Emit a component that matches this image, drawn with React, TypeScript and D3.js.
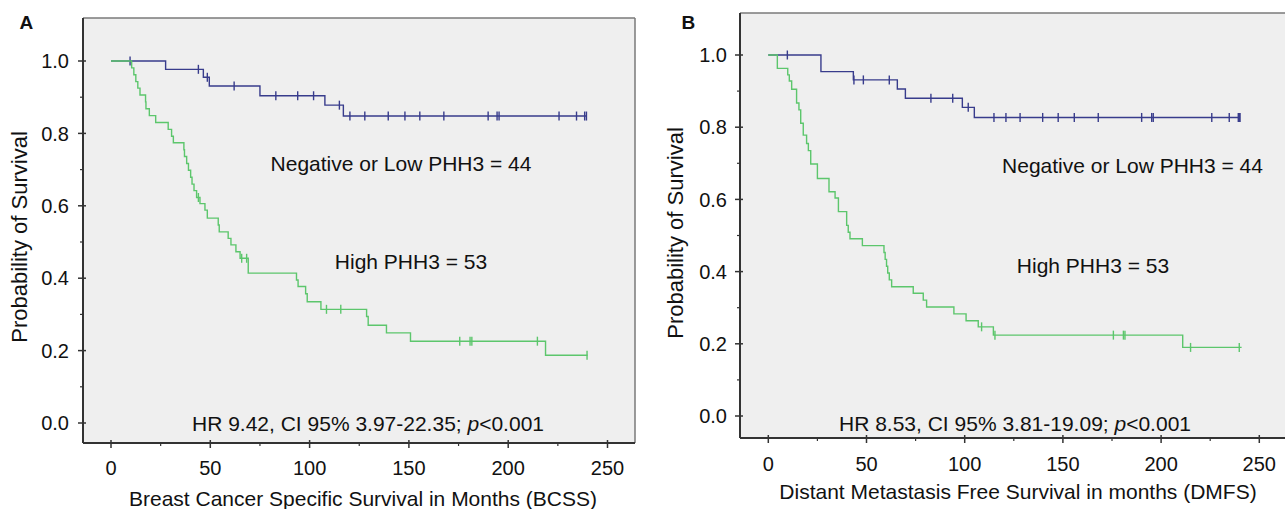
import React from "react";
import * as d3 from "d3";

// ---------- data ----------
const timeTicks = [0, 50, 100, 150, 200, 250];
const timeMinorTicks = [25, 75, 125, 175, 225];
const probTicks = [0, 0.2, 0.4, 0.6, 0.8, 1.0];
const probMinorTicks = [0.1, 0.3, 0.5, 0.7, 0.9];

// Panel A – BCSS
const bcssLowTimes = [0, 27.5, 46.5, 49.5, 75, 107.7, 117];
const bcssLowSurv = [1.0, 0.977, 0.955, 0.931, 0.904, 0.878, 0.848];
const bcssLowCensor = [9.6, 44, 48.5, 62, 83, 94, 102, 115, 120.3, 127.8, 139.6, 148, 155.5, 167.6, 189.9, 194.4, 195.4, 225.6, 234.4, 238.5, 239.4];
const bcssLowEnd = 239.5;

const bcssHighTimes = [0, 10.4, 11.5, 12.5, 13.5, 14.6, 17.4, 17.6, 19.3, 22.5, 28.8, 30.5, 31.4, 36.7, 37.0, 38.1, 39.0, 40.1, 40.8, 41.8, 43.1, 44.8, 47.3, 48.5, 54.0, 54.5, 59.0, 60.4, 62.9, 65.0, 69.1, 93.4, 94.2, 98.0, 98.8, 105.7, 128.7, 129.5, 138.7, 150.8, 218.8];
const bcssHighSurv = [1.0, 0.981, 0.962, 0.943, 0.925, 0.906, 0.887, 0.868, 0.849, 0.83, 0.811, 0.792, 0.774, 0.755, 0.736, 0.717, 0.698, 0.679, 0.66, 0.642, 0.623, 0.606, 0.588, 0.566, 0.547, 0.528, 0.51, 0.492, 0.473, 0.455, 0.414, 0.395, 0.377, 0.357, 0.335, 0.314, 0.294, 0.27, 0.249, 0.226, 0.187];
const bcssHighCensor = [44.0, 65.8, 68.3, 108.5, 115.7, 175.6, 180.8, 181.7, 214.7, 239.7];
const bcssHighEnd = 240;

// Panel B – DMFS
const dmfsLowTimes = [0, 26.8, 43.3, 65.7, 69.8, 98.8, 104.9];
const dmfsLowSurv = [1.0, 0.954, 0.931, 0.906, 0.88, 0.855, 0.827];
const dmfsLowCensor = [9.7, 43.6, 48.4, 61.6, 82.8, 93.9, 101.8, 114.9, 121.0, 128.2, 139.7, 147.6, 155.8, 168.0, 190.1, 195.2, 196.0, 225.8, 234.7, 239.3, 239.8, 240.2];
const dmfsLowEnd = 240.2;

const dmfsHighTimes = [0, 4.6, 9.9, 10.7, 11.9, 14.4, 15.6, 16.5, 17.8, 19.5, 20.4, 21.6, 25.0, 30.9, 34.0, 35.7, 39.9, 40.7, 41.6, 47.9, 58.9, 59.5, 60.2, 60.8, 61.6, 62.8, 73.8, 78.9, 80.6, 94.5, 100.7, 106.9, 114.6, 211];
const dmfsHighSurv = [1.0, 0.963, 0.945, 0.928, 0.905, 0.867, 0.848, 0.811, 0.778, 0.755, 0.735, 0.698, 0.658, 0.621, 0.604, 0.566, 0.528, 0.509, 0.491, 0.472, 0.453, 0.434, 0.415, 0.396, 0.377, 0.358, 0.34, 0.321, 0.302, 0.283, 0.264, 0.247, 0.224, 0.19];
const dmfsHighCensor = [108.6, 115.4, 175.7, 180.8, 181.6, 215, 239.8];
const dmfsHighEnd = 241;

// ---------- styling ----------
const NAVY = "#383c8c";
const GREEN = "#5cc66c";
const FONT = "'Liberation Sans', Arial, Helvetica, sans-serif";
const TICK_FS = 20;
const LABEL_FS = 21;
const YTITLE_FS = 22;

type Series = { times: number[]; surv: number[]; censor: number[]; end: number; color: string };

function survAt(s: Series, t: number) {
  let v = s.surv[0];
  for (let i = 0; i < s.times.length; i++) if (s.times[i] <= t) v = s.surv[i];
  return v;
}

type PanelProps = {
  letter: string;
  letterX: number;
  frame: { l: number; r: number; t: number; b: number };
  xRange: [number, number];
  yRange: [number, number];
  series: Series[];
  xTitle: string;
  xTitleX: number;
  xTitleY: number;
  xTickY: number;
  yTitleX: number;
  yTitleY: number;
  yTickX: number;
  labelLow: [number, number];
  labelHigh: [number, number];
  hr: string;
  ci: string;
  hrPos: [number, number];
  clipId: string;
};

function Panel(p: PanelProps) {
  const x = d3.scaleLinear().domain([0, 250]).range(p.xRange);
  const y = d3.scaleLinear().domain([0, 1]).range(p.yRange);
  const line = d3
    .line<[number, number]>()
    .x((d) => x(d[0]))
    .y((d) => y(d[1]))
    .curve(d3.curveStepAfter);
  const f = p.frame;
  return (
    <g fontFamily={FONT}>
      <defs>
        <clipPath id={p.clipId}>
          <rect x={f.l} y={f.t} width={f.r - f.l} height={f.b - f.t} />
        </clipPath>
      </defs>
      <rect x={f.l} y={f.t} width={f.r - f.l} height={f.b - f.t} fill="#efefef" />
      <line x1={f.l} x2={f.r} y1={f.t} y2={f.t} stroke="#7a7a7a" strokeWidth={1.5} />
      <line x1={f.r} x2={f.r} y1={f.t} y2={f.b} stroke="#7a7a7a" strokeWidth={1.5} />
      <g clipPath={`url(#${p.clipId})`}>
        {p.series.map((s, i) => {
          const pts: [number, number][] = s.times.map((t, j) => [t, s.surv[j]]);
          pts.push([s.end, s.surv[s.surv.length - 1]]);
          return (
            <g key={i}>
              <path d={line(pts) || ""} fill="none" stroke={s.color} strokeWidth={1.4} />
              {s.censor.map((c, k) => (
                <line
                  key={k}
                  x1={x(c)}
                  x2={x(c)}
                  y1={y(survAt(s, c)) - 4.5}
                  y2={y(survAt(s, c)) + 4.5}
                  stroke={s.color}
                  strokeWidth={1.4}
                />
              ))}
            </g>
          );
        })}
      </g>
      {/* axes */}
      <line x1={f.l} x2={f.l} y1={f.t} y2={f.b} stroke="#333" strokeWidth={2} />
      <line x1={f.l} x2={f.r} y1={f.b} y2={f.b} stroke="#333" strokeWidth={2} />
      {probTicks.map((v) => (
        <g key={"yt" + v}>
          <line x1={f.l - 5} x2={f.l + 3} y1={y(v)} y2={y(v)} stroke="#333" strokeWidth={1.5} />
          <text x={p.yTickX} y={y(v)} dy="0.36em" textAnchor="end" fontSize={TICK_FS} fill="#111">
            {v.toFixed(1)}
          </text>
        </g>
      ))}
      {probMinorTicks.map((v) => (
        <line key={"ym" + v} x1={f.l - 3} x2={f.l} y1={y(v)} y2={y(v)} stroke="#333" strokeWidth={1.2} />
      ))}
      {timeTicks.map((v) => (
        <g key={"xt" + v}>
          <line x1={x(v)} x2={x(v)} y1={f.b - 3} y2={f.b + 5} stroke="#333" strokeWidth={1.5} />
          <text x={x(v)} y={p.xTickY} textAnchor="middle" fontSize={TICK_FS} fill="#111">
            {v}
          </text>
        </g>
      ))}
      {timeMinorTicks.map((v) => (
        <line key={"xm" + v} x1={x(v)} x2={x(v)} y1={f.b} y2={f.b + 3} stroke="#333" strokeWidth={1.2} />
      ))}
      <text x={p.xTitleX} y={p.xTitleY} textAnchor="middle" fontSize={LABEL_FS} fill="#111">
        {p.xTitle}
      </text>
      <text
        transform={`translate(${p.yTitleX},${p.yTitleY}) rotate(-90)`}
        textAnchor="middle"
        fontSize={YTITLE_FS}
        fill="#111"
      >
        Probability of Survival
      </text>
      <text x={p.labelLow[0]} y={p.labelLow[1]} textAnchor="middle" fontSize={LABEL_FS} fill="#111">
        Negative or Low PHH3 = 44
      </text>
      <text x={p.labelHigh[0]} y={p.labelHigh[1]} textAnchor="middle" fontSize={LABEL_FS} fill="#111">
        High PHH3 = 53
      </text>
      <text x={p.hrPos[0]} y={p.hrPos[1]} textAnchor="middle" fontSize={LABEL_FS} fill="#111">
        {`HR ${p.hr}, CI 95% ${p.ci}; `}
        <tspan fontStyle="italic">p</tspan>
        {"<0.001"}
      </text>
      <text x={p.letterX} y={28.5} fontSize={19} fontWeight="bold" fill="#111">
        {p.letter}
      </text>
    </g>
  );
}

export default function App() {
  const bcss: Series[] = [
    { times: bcssLowTimes, surv: bcssLowSurv, censor: bcssLowCensor, end: bcssLowEnd, color: NAVY },
    { times: bcssHighTimes, surv: bcssHighSurv, censor: bcssHighCensor, end: bcssHighEnd, color: GREEN },
  ];
  const dmfs: Series[] = [
    { times: dmfsLowTimes, surv: dmfsLowSurv, censor: dmfsLowCensor, end: dmfsLowEnd, color: NAVY },
    { times: dmfsHighTimes, surv: dmfsHighSurv, censor: dmfsHighCensor, end: dmfsHighEnd, color: GREEN },
  ];
  return (
    <svg
      width={1285}
      height={509}
      style={{ position: "absolute", left: 0, top: 0, background: "#fff" }}
    >
      <Panel
        letter="A"
        letterX={19.5}
        frame={{ l: 83, r: 635, t: 18, b: 443 }}
        xRange={[111, 607.5]}
        yRange={[423, 61]}
        series={bcss}
        xTitle="Breast Cancer Specific Survival in Months (BCSS)"
        xTitleX={363}
        xTitleY={505.5}
        xTickY={475}
        yTitleX={27}
        yTitleY={237}
        yTickX={69}
        labelLow={[401, 170.5]}
        labelHigh={[411, 269]}
        hr="9.42"
        ci="3.97-22.35"
        hrPos={[368, 431]}
        clipId="clipA"
      />
      <Panel
        letter="B"
        letterX={681.5}
        frame={{ l: 740, r: 1290, t: 13, b: 438 }}
        xRange={[768.3, 1259.3]}
        yRange={[416, 55]}
        series={dmfs}
        xTitle="Distant Metastasis Free Survival in months (DMFS)"
        xTitleX={1018}
        xTitleY={499}
        xTickY={470.5}
        yTitleX={683}
        yTitleY={233}
        yTickX={727}
        labelLow={[1132.5, 173]}
        labelHigh={[1093, 272.5]}
        hr="8.53"
        ci="3.81-19.09"
        hrPos={[1015, 431]}
        clipId="clipB"
      />
    </svg>
  );
}
